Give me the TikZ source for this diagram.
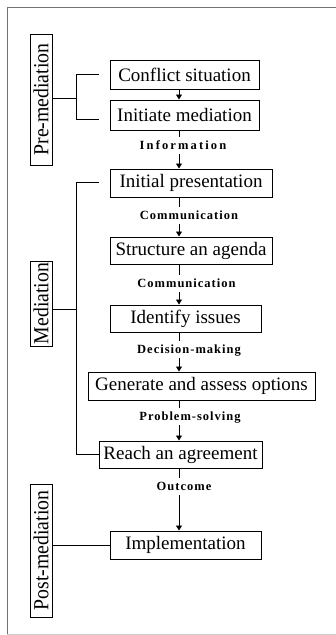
\documentclass[tikz,border=0pt]{standalone}
\usepackage{fontspec}
\setmainfont{Liberation Serif}
\newfontfamily\phasefont[FakeStretch=0.92]{Liberation Serif}
\newfontfamily\flowfont[LetterSpace=8]{Liberation Serif}
\newfontfamily\wideflowfont[LetterSpace=17]{Liberation Serif}
\usetikzlibrary{arrows.meta}
\begin{document}
\begin{tikzpicture}[x=1pt,y=-1pt,
  stage/.style={draw, line width=1pt, inner sep=0pt,
    font=\fontsize{19}{19}\selectfont},
  phase/.style={draw, line width=1pt, rotate=90, inner sep=0pt,
    minimum height=22pt, font=\phasefont\fontsize{21.5}{21.5}\selectfont},
  flowlabel/.style={anchor=base, inner xsep=1pt, inner ysep=4pt,
    text height=8pt, text depth=1pt,
    font=\flowfont\fontsize{12.5}{12.5}\selectfont\bfseries},
  link/.style={line width=0.8pt},
  flow/.style={link, -{Triangle[width=6pt,length=5pt]}},
]
\useasboundingbox (0,0) rectangle (336,635);

% page frame
\draw[black!55, line width=0.8pt] (7,635) -- (7,7) -- (336,7);
\draw[black!20, line width=0.6pt] (7,634) -- (336,634);

% stages of the process
\node[stage, minimum width=149pt, minimum height=29pt] (conflict) at (184.5,74.5) {Conflict situation};
\node[stage, minimum width=149pt, minimum height=30pt] (initiate) at (184.5,115) {Initiate mediation};
\node[stage, minimum width=162pt, minimum height=28pt] (initial)  at (191,183) {Initial presentation};
\node[stage, minimum width=162pt, minimum height=27pt] (agenda)   at (191,250.5) {Structure an agenda};
\node[stage, minimum width=151pt, minimum height=27pt] (issues)   at (185.5,318.5) {Identify issues};
\node[stage, minimum width=227pt, minimum height=28pt] (options)  at (201.5,386) {Generate and assess options};
\node[stage, minimum width=163pt, minimum height=27pt] (reach)    at (180.5,454.5) {Reach an agreement};
\node[stage, minimum width=151pt, minimum height=28pt] (impl)     at (185.5,545) {Implementation};

% labels on the transitions
\node[flowlabel, font=\wideflowfont\fontsize{12.5}{12.5}\selectfont\bfseries] (info) at (183,149) {Information};
\node[flowlabel] (comA)    at (189,219) {Communication};
\node[flowlabel] (comB)    at (186.5,287) {Communication};
\node[flowlabel] (decide)  at (189,353) {Decision-making};
\node[flowlabel] (solve)   at (190,420) {Problem-solving};
\node[flowlabel] (outcome) at (184,490) {Outcome};

% phase labels
\node[phase, minimum width=131pt] (pre)  at (41,99.5)  {Pre-mediation};
\node[phase, minimum width=85pt]  (med)  at (41,303.5) {Mediation};
\node[phase, minimum width=133pt] (post) at (41,550.5) {Post-mediation};

% main flow line
\coordinate (ax) at (179,0);
\draw[flow] (conflict.south -| ax) -- (initiate.north -| ax);
\draw[link] (initiate.south -| ax) -- (info.north -| ax);
\draw[flow] (info.south -| ax) -- (initial.north -| ax);
\draw[link] (initial.south -| ax) -- (comA.north -| ax);
\draw[flow] (comA.south -| ax) -- (agenda.north -| ax);
\draw[link] (agenda.south -| ax) -- (comB.north -| ax);
\draw[flow] (comB.south -| ax) -- (issues.north -| ax);
\draw[link] (issues.south -| ax) -- (decide.north -| ax);
\draw[flow] (decide.south -| ax) -- (options.north -| ax);
\draw[link] (options.south -| ax) -- (solve.north -| ax);
\draw[flow] (solve.south -| ax) -- (reach.north -| ax);
\draw[link] (reach.south -| ax) -- (outcome.north -| ax);
\draw[flow] (outcome.south -| ax) -- (impl.north -| ax);

% brackets joining each phase to its stages
\coordinate (preA) at (76,74);
\coordinate (preB) at (76,119);
\draw[link] (pre.south |- 0,98) -- (76,98);
\draw[link] (preA -| 99,0) -- (preA) -- (preB) -- (preB -| 99,0);

\coordinate (medA) at (76,182);
\coordinate (medB) at (76,454.5);
\draw[link] (med.south |- 0,309) -- (76,309);
\draw[link] (medA -| 99,0) -- (medA) -- (medB) -- (reach.west);

\draw[link] (post.south |- impl.west) -- (impl.west);
\end{tikzpicture}
\end{document}
